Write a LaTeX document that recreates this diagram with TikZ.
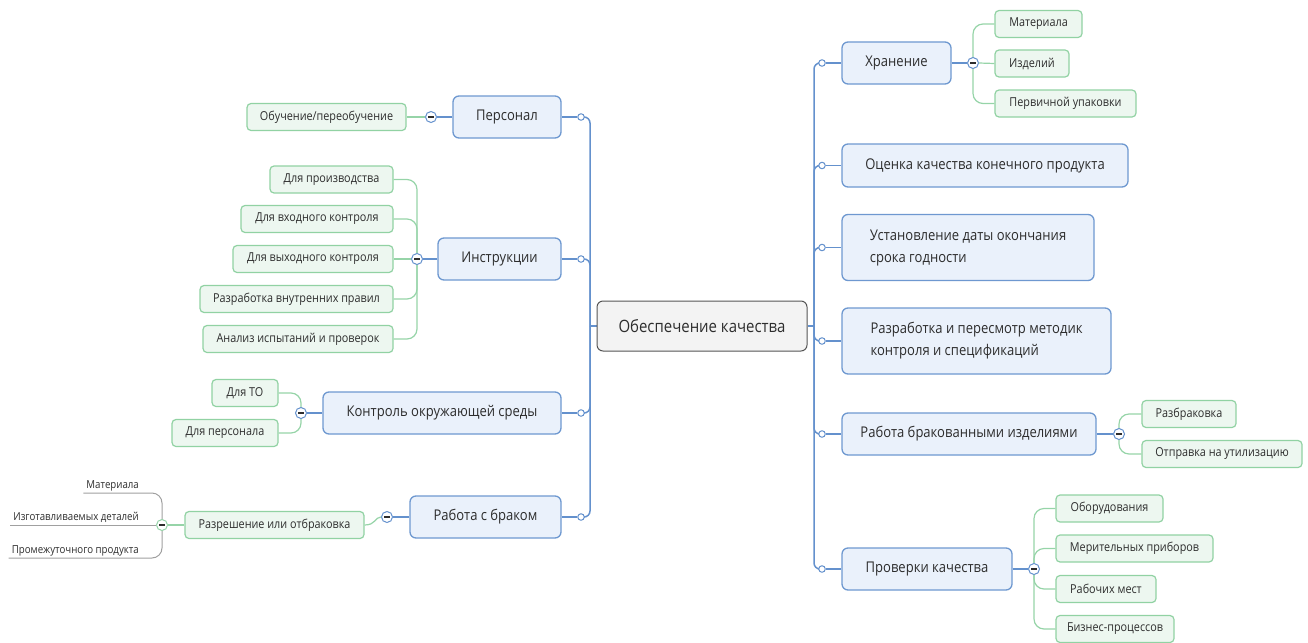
\documentclass[tikz,border=0pt]{standalone}
\usepackage{fontspec}
\setmainfont{Open Sans}[FakeStretch=0.88]
\pgfdeclarelayer{bg}
\pgfsetlayers{bg,main}

\definecolor{bline}{RGB}{100,145,205}
\definecolor{bbord}{RGB}{110,152,208}
\definecolor{bfill}{RGB}{234,241,251}
\definecolor{gbord}{RGB}{145,210,163}
\definecolor{gfill}{RGB}{237,247,240}
\definecolor{gline}{RGB}{150,212,168}
\definecolor{cfill}{RGB}{243,243,243}
\definecolor{cbord}{RGB}{85,85,85}
\definecolor{txt}{RGB}{45,45,45}
\definecolor{leafline}{RGB}{160,160,160}

\newcommand{\centerfs}{\fontsize{17}{20}\selectfont}
\newcommand{\mainfs}{\fontsize{14.8}{22}\selectfont}
\newcommand{\childfs}{\fontsize{12.3}{14}\selectfont}
\newcommand{\leaffs}{\fontsize{11}{12}\selectfont}

\tikzset{
  rootbox/.style={draw=cbord, fill=cfill, rounded corners=6pt, line width=1pt,
    text=txt, font=\centerfs, inner sep=0pt},
  mainbox/.style={draw=bbord, fill=bfill, rounded corners=6pt, line width=1.3pt,
    text=txt, font=\mainfs, inner sep=0pt, align=left},
  childbox/.style={draw=gbord, fill=gfill, rounded corners=4pt, line width=1.2pt,
    text=txt, font=\childfs, inner sep=0pt, minimum height=27pt},
  leaf/.style={text=txt, font=\leaffs, inner xsep=3pt, inner ysep=2pt, anchor=south east},
  dot/.style={circle, draw=bline, fill=white, inner sep=0pt, minimum size=6.5pt, line width=1pt},
  minus/.style={circle, draw=#1, fill=white, inner sep=0pt, minimum size=11pt, line width=1pt,
    path picture={\draw[line width=1.3pt, txt]
      ([xshift=-2.6pt]path picture bounding box.center) --
      ([xshift=2.6pt]path picture bounding box.center);}},
  minus/.default=bline,
  trunk/.style={draw=bline, line width=1.5pt, rounded corners=6pt},
  gconn/.style={draw=gline, line width=1.2pt, rounded corners=10pt},
  lconn/.style={draw=leafline, line width=1pt, rounded corners=10pt},
}

\begin{document}
\begin{tikzpicture}[x=1pt, y=-1pt]
\useasboundingbox (0,0) rectangle (1308,642);

% central topic
\node[rootbox, minimum width=210pt, minimum height=50pt] (root) at (702,326) {Обеспечение качества};
\coordinate (tl) at (590,326);
\coordinate (tr) at (814,326);

% left main topics
\node[mainbox, minimum width=108pt, minimum height=42pt] (pers) at (507,117) {Персонал};
\node[mainbox, minimum width=123pt, minimum height=42pt] (instr) at (499.5,259) {Инструкции};
\node[mainbox, minimum width=238pt, minimum height=42pt] (env) at (442,413) {Контроль окружающей среды};
\node[mainbox, minimum width=151pt, minimum height=42pt] (brak) at (485.5,517) {Работа с браком};

% right main topics
\node[mainbox, minimum width=109pt, minimum height=42pt] (stor) at (896.5,63) {Хранение};
\node[mainbox, minimum width=286pt, minimum height=43pt] (eval) at (985,165.5) {Оценка качества конечного продукта};
\node[mainbox, minimum width=252pt, minimum height=66pt] (expd) at (968,247.5) {Установление даты окончания\\срока годности};
\node[mainbox, minimum width=269pt, minimum height=66pt] (meth) at (976.5,341) {Разработка и пересмотр методик\\контроля и спецификаций};
\node[mainbox, minimum width=254pt, minimum height=42pt] (defc) at (969,434) {Работа бракованными изделиями};
\node[mainbox, minimum width=170pt, minimum height=42pt] (insp) at (927,569) {Проверки качества};

% junction dots
\node[dot] (dpers) at (581,117) {};
\node[dot] (dinstr) at (581,259) {};
\node[dot] (denv) at (581,413) {};
\node[dot] (dbrak) at (581,517) {};
\node[dot] (dstor) at (822,63) {};
\node[dot] (deval) at (822,165.5) {};
\node[dot] (dexpd) at (822,247.5) {};
\node[dot] (dmeth) at (822,341) {};
\node[dot] (ddefc) at (822,434) {};
\node[dot] (dinsp) at (822,569) {};

% collapse markers
\node[minus] (mpers) at (431,117) {};
\node[minus] (minstr) at (417,259) {};
\node[minus] (menv) at (301,413) {};
\node[minus] (mbrak) at (387,517) {};
\node[minus=gline] (mres) at (162,525) {};
\node[minus] (mstor) at (973,63) {};
\node[minus] (mdefc) at (1119,434) {};
\node[minus] (minsp) at (1034,569) {};

% subtopics, left
\node[childbox, minimum width=159pt] (p1) at (326.5,117) {Обучение/переобучение};
\node[childbox, minimum width=123pt] (i1) at (331.5,179.5) {Для производства};
\node[childbox, minimum width=152pt] (i2) at (317,219) {Для входного контроля};
\node[childbox, minimum width=160pt] (i3) at (313,259) {Для выходного контроля};
\node[childbox, minimum width=193pt] (i4) at (296.5,299) {Разработка внутренних правил};
\node[childbox, minimum width=190pt] (i5) at (298,339) {Анализ испытаний и проверок};
\node[childbox, minimum width=66pt] (e1) at (245,393) {Для ТО};
\node[childbox, minimum width=106pt] (e2) at (225,433) {Для персонала};
\node[childbox, minimum width=179pt] (b1) at (274.5,525) {Разрешение или отбраковка};

% leaves under Разрешение или отбраковка
\node[leaf] (r1) at (142,493) {Материала};
\node[leaf] (r2) at (142,525) {Изготавливаемых деталей};
\node[leaf] (r3) at (142,558) {Промежуточного продукта};

% subtopics, right
\node[childbox, minimum width=87pt] (s1) at (1038.5,24) {Материала};
\node[childbox, minimum width=74pt] (s2) at (1032,63.5) {Изделий};
\node[childbox, minimum width=141pt] (s3) at (1065.5,103.5) {Первичной упаковки};
\node[childbox, minimum width=94pt] (d1) at (1189,414) {Разбраковка};
\node[childbox, minimum width=160pt] (d2) at (1222,454) {Отправка на утилизацию};
\node[childbox, minimum width=107pt] (q1) at (1109.5,508.5) {Оборудования};
\node[childbox, minimum width=157pt] (q2) at (1134.5,548.5) {Мерительных приборов};
\node[childbox, minimum width=100pt] (q3) at (1106,589) {Рабочих мест};
\node[childbox, minimum width=118pt] (q4) at (1115,629) {Бизнес-процессов};

\begin{pgfonlayer}{bg}
  % trunks from the central topic
  \draw[trunk] (root.west) -- (tl);
  \draw[trunk] (root.east) -- (tr);
  \foreach \d/\n in {dpers/pers, dinstr/instr, denv/env, dbrak/brak} {
    \draw[trunk] (tl) |- (\d.east);
    \draw[trunk] (\d.west) -- (\n.east);
  }
  \foreach \d/\n in {dstor/stor, deval/eval, dexpd/expd, dmeth/meth, ddefc/defc, dinsp/insp} {
    \draw[trunk] (tr) |- (\d.west);
    \draw[trunk] (\d.east) -- (\n.west);
  }
  % main topics to their markers
  \draw[trunk] (pers.west) -- (mpers.east);
  \draw[trunk] (instr.west) -- (minstr.east);
  \draw[trunk] (env.west) -- (menv.east);
  \draw[trunk] (brak.west) -- (mbrak.east);
  \draw[trunk] (stor.east) -- (mstor.west);
  \draw[trunk] (defc.east) -- (mdefc.west);
  \draw[trunk] (insp.east) -- (minsp.west);
  % markers to subtopics
  \draw[gconn] (mpers.west) -- (p1.east);
  \foreach \c in {i1,i2,i4,i5} \draw[gconn] (minstr.center) |- (\c.east);
  \draw[gconn] (minstr.west) -- (i3.east);
  \foreach \c in {e1,e2} \draw[gconn] (menv.center) |- (\c.east);
  \draw[gconn] (mbrak.west) .. controls (375,517) and (376,525) .. (b1.east);
  \draw[gconn] (b1.west) -- (mres.east);
  \draw[lconn] (mres.center) |- (r1.south west);
  \draw[lconn] (mres.west) -- (r2.south west);
  \draw[lconn] (mres.center) |- (r3.south west);
  \foreach \c in {s1,s3} \draw[gconn] (mstor.center) |- (\c.west);
  \draw[gconn] (mstor.east) -- (s2.west);
  \foreach \c in {d1,d2} \draw[gconn] (mdefc.center) |- (\c.west);
  \foreach \c in {q1,q2,q3,q4} \draw[gconn] (minsp.center) |- (\c.west);
\end{pgfonlayer}
\end{tikzpicture}
\end{document}
